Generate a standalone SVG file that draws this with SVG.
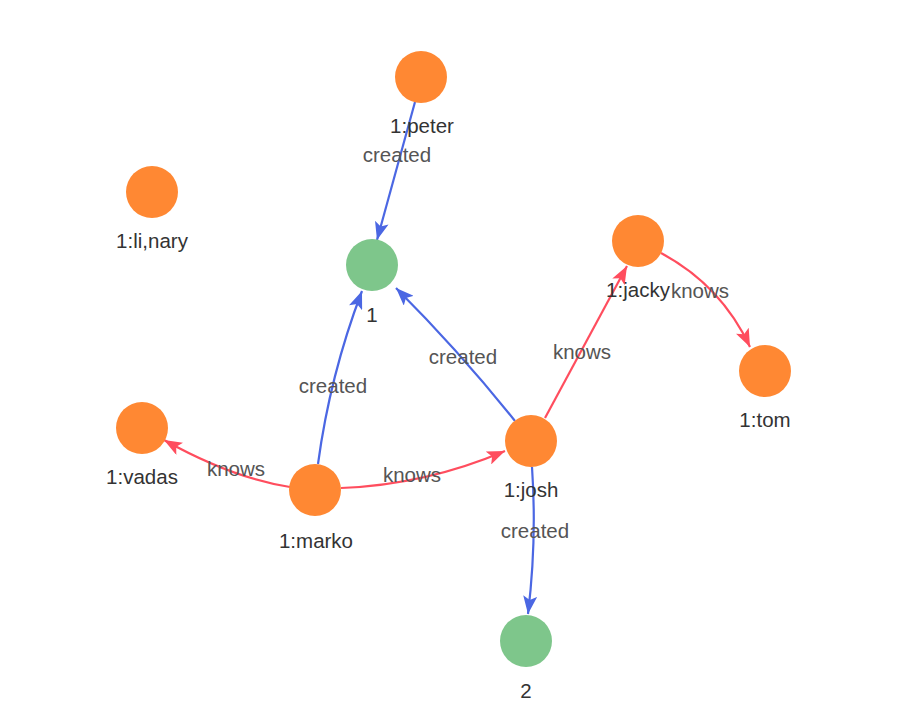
<svg xmlns="http://www.w3.org/2000/svg" width="902" height="715" viewBox="0 0 902 715">
<style>
.v{fill:#FF8833}
.g{fill:#7EC68B}
.nl{font-family:"Liberation Sans",Arial,sans-serif;font-size:20.5px;fill:#333;text-anchor:middle}
.el{font-family:"Liberation Sans",Arial,sans-serif;font-size:20.5px;fill:#555;text-anchor:middle}
.c{fill:none;stroke:#4B67E3;stroke-width:2.2;marker-end:url(#ab)}
.k{fill:none;stroke:#FF4D5E;stroke-width:2.2;marker-end:url(#ar)}
</style>
<defs>
<marker id="ab" viewBox="0 0 18 14" refX="18" refY="7" markerWidth="18" markerHeight="14" markerUnits="userSpaceOnUse" orient="auto"><path d="M0,0 L18,7 L0,14 L4,7 Z" fill="#4B67E3"/></marker>
<marker id="ar" viewBox="0 0 18 14" refX="18" refY="7" markerWidth="18" markerHeight="14" markerUnits="userSpaceOnUse" orient="auto"><path d="M0,0 L18,7 L0,14 L4,7 Z" fill="#FF4D5E"/></marker>
</defs>
<rect width="902" height="715" fill="#fff"/>
<g id="edges">
<path class="c" d="M415,102 L377,240"/>
<path class="c" d="M318,464 Q330,375 362,291"/>
<path class="c" d="M515,421 Q460,352 396,288"/>
<path class="k" d="M545,418 L627,266"/>
<path class="k" d="M661,253 Q721,285 750,347"/>
<path class="k" d="M290,487 Q232,478 164,440"/>
<path class="k" d="M341,488 Q425,485 505,451"/>
<path class="c" d="M532,467 Q537,540 528,614"/>
<text class="el" x="397" y="162">created</text>
<text class="el" x="333" y="393">created</text>
<text class="el" x="463" y="364">created</text>
<text class="el" x="582" y="359">knows</text>
<text class="el" x="700" y="298">knows</text>
<text class="el" x="236" y="476">knows</text>
<text class="el" x="412" y="482">knows</text>
<text class="el" x="535" y="538">created</text>
</g>
<g id="peter"><circle class="v" cx="421" cy="77" r="26"/><text class="nl" x="422" y="133">1:peter</text></g>
<g id="linary"><circle class="v" cx="152" cy="192" r="26"/><text class="nl" x="152" y="248">1:li,nary</text></g>
<g id="s1"><circle class="g" cx="372" cy="265" r="26"/><text class="nl" x="372" y="322">1</text></g>
<g id="jacky"><circle class="v" cx="638" cy="241" r="26"/><text class="nl" x="638" y="297">1:jacky</text></g>
<g id="tom"><circle class="v" cx="765" cy="371" r="26"/><text class="nl" x="765" y="427">1:tom</text></g>
<g id="vadas"><circle class="v" cx="142" cy="428" r="26"/><text class="nl" x="142" y="484">1:vadas</text></g>
<g id="marko"><circle class="v" cx="315" cy="490" r="26"/><text class="nl" x="316" y="548">1:marko</text></g>
<g id="josh"><circle class="v" cx="531" cy="441" r="26"/><text class="nl" x="531" y="497">1:josh</text></g>
<g id="s2"><circle class="g" cx="526" cy="641" r="26"/><text class="nl" x="526" y="698">2</text></g>
</svg>
